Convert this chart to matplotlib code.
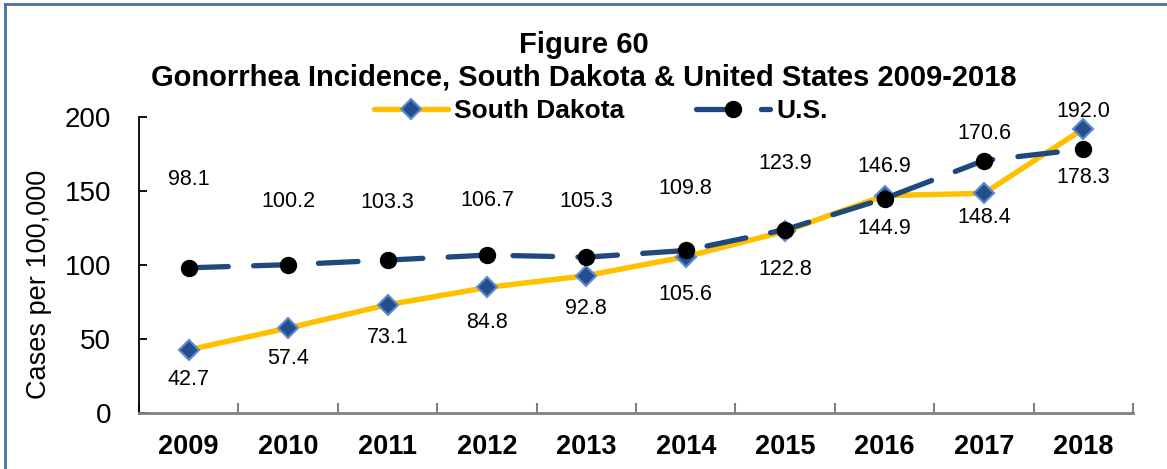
import numpy as np
import matplotlib
matplotlib.use("Agg")
import matplotlib.pyplot as plt
from matplotlib.lines import Line2D

plt.rcParams["font.family"] = "Liberation Sans"

years = ["2009", "2010", "2011", "2012", "2013", "2014", "2015", "2016", "2017", "2018"]
south_dakota = [42.7, 57.4, 73.1, 84.8, 92.8, 105.6, 122.8, 146.9, 148.4, 192.0]
us = [98.1, 100.2, 103.3, 106.7, 105.3, 109.8, 123.9, 144.9, 170.6, 178.3]

# label offsets in pixels (positive = above the point)
sd_offsets = [-30, -30, -33, -35, -33, -38, -38, 29, -24, 17]
us_offsets = [88, 63, 58, 55, 56, 62, 66, -30, 27, -28]

SD_LINE = "#FFC000"
SD_FACE = "#254F8C"
SD_EDGE = "#5B8BD0"
US_LINE = "#1F497D"
FRAME = "#4A6FA5"

fig = plt.figure(figsize=(11.67, 4.69), dpi=100)
ax = fig.add_axes([139 / 1167, 1 - 413 / 469, (1133 - 139) / 1167, (413 - 117) / 469])

x = np.arange(len(years))
dash = (0, (7.5, 4.8))

ax.plot(x, south_dakota, color=SD_LINE, lw=3.9, solid_capstyle="round",
        marker="D", ms=10.5, mfc=SD_FACE, mec=SD_EDGE, mew=1.5, zorder=3)
ax.plot(x, us, color=US_LINE, lw=3.8, linestyle=dash, dash_capstyle="round",
        marker="o", ms=11.5, mfc="black", mec="black", zorder=4)

for i in range(len(years)):
    ax.annotate(f"{south_dakota[i]:.1f}", (x[i], south_dakota[i]),
                xytext=(0, sd_offsets[i]), textcoords="offset pixels",
                ha="center", va="center", fontsize=15.5)
    ax.annotate(f"{us[i]:.1f}", (x[i], us[i]),
                xytext=(0, us_offsets[i]), textcoords="offset pixels",
                ha="center", va="center", fontsize=15.5)

ax.set_xlim(-0.5, len(years) - 0.5)
ax.set_ylim(0, 200)
ax.set_yticks([0, 50, 100, 150, 200])
ax.tick_params(axis="y", direction="in", length=6, width=1.3, labelsize=20, pad=20)
ax.set_xticks(x)
ax.set_xticklabels(years, fontweight="bold", fontsize=19.5)
ax.tick_params(axis="x", which="major", length=0, pad=15)
ax.set_xticks(np.arange(-0.5, len(years)), minor=True)
ax.tick_params(axis="x", which="minor", direction="in", length=7, width=1.5, color="#808080")

for side in ["top", "right"]:
    ax.spines[side].set_visible(False)
ax.spines["left"].set_linewidth(1.3)
ax.spines["bottom"].set_color("#808080")
ax.spines["bottom"].set_linewidth(2)

ax.set_ylabel("Cases per 100,000", fontsize=19.5)
ax.yaxis.set_label_coords(-87 / 994, 0.436)

fig.text(584 / 1167, 1 - 45 / 469, "Figure 60", ha="center", va="center",
         fontsize=21, fontweight="bold")
fig.text(584 / 1167, 1 - 78 / 469,
         "Gonorrhea Incidence, South Dakota & United States 2009-2018",
         ha="center", va="center", fontsize=21, fontweight="bold")

handles = [
    Line2D([], [], color=SD_LINE, lw=3.9, solid_capstyle="round", marker="D",
           ms=10.5, mfc=SD_FACE, mec=SD_EDGE, mew=1.5),
    Line2D([], [], color=US_LINE, lw=3.8, linestyle=dash, dash_capstyle="round",
           marker="o", ms=11.5, mfc="black", mec="black"),
]
fig.legend(handles, ["South Dakota", "U.S."], loc="center", ncol=2,
           bbox_to_anchor=(601 / 1167, 1 - 111 / 469), frameon=False,
           prop={"weight": "bold", "size": 19}, handlelength=2.8,
           handletextpad=0.25, columnspacing=2.7, numpoints=1)

# outer frame: left and top edges
fig.add_artist(Line2D([5 / 1167, 5 / 1167], [0, 1 - 4 / 469], color=FRAME, lw=2,
                      transform=fig.transFigure))
fig.add_artist(Line2D([5 / 1167, 1], [1 - 4 / 469, 1 - 4 / 469], color=FRAME, lw=2,
                      transform=fig.transFigure))

fig.savefig("out.png", dpi=100)
